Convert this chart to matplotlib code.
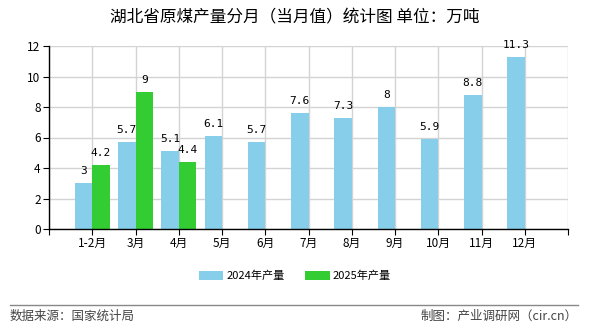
import matplotlib.pyplot as plt
import numpy as np

plt.rcParams['font.family'] = ['Noto Sans CJK SC', 'DejaVu Sans']

months = ['1-2月', '3月', '4月', '5月', '6月', '7月', '8月', '9月', '10月', '11月', '12月']
output_2024 = [3, 5.7, 5.1, 6.1, 5.7, 7.6, 7.3, 8, 5.9, 8.8, 11.3]
output_2025 = [4.2, 9, 4.4]

fig = plt.figure(figsize=(5.9, 3.3), dpi=100)
ax = fig.add_axes([49 / 590, 101 / 330, 519 / 590, 183 / 330])

x = np.arange(len(months))
w = 0.4
b1 = ax.bar(x - w / 2, output_2024, w, color='#87CEEB', label='2024年产量', zorder=3)
b2 = ax.bar(x[:len(output_2025)] + w / 2, output_2025, w, color='#33CC33', label='2025年产量', zorder=3)

# value labels above each bar
for bars, vals in ((b1, output_2024), (b2, output_2025)):
    for r, v in zip(bars, vals):
        ax.annotate('%g' % v, (r.get_x() + r.get_width() / 2, v), xytext=(0, 5),
                    textcoords='offset points', ha='center', va='bottom',
                    fontsize=8, family=['DejaVu Sans Mono'], zorder=4)

ax.set_xlim(-1, 11)
ax.set_ylim(0, 12)
ax.set_yticks(range(0, 13, 2))
ax.set_xticks(np.arange(-1, 12))
ax.set_xticklabels([''] + months + [''])
ax.tick_params(axis='both', labelsize=8.5, length=4, color='black', pad=2)
ax.grid(True, color='#d3d3d3', linewidth=1, zorder=0)
for s in ('top', 'right'):
    ax.spines[s].set_visible(False)
for s in ('left', 'bottom'):
    ax.spines[s].set_linewidth(1)
    ax.spines[s].set_zorder(5)

fig.text(0.5, 1 - 18 / 330, '湖北省原煤产量分月（当月值）统计图 单位：万吨',
         ha='center', va='center', fontsize=12)

fig.legend(loc='center', bbox_to_anchor=(0.5, 1 - 276 / 330), ncol=2, frameon=False,
           fontsize=8, handlelength=2.2, handleheight=0.9, columnspacing=1.8, handletextpad=0.3)

fig.add_artist(plt.Line2D([10 / 590, 578 / 590], [1 - 305 / 330] * 2, color='#888888', linewidth=1))
fig.text(10 / 590, 1 - 316 / 330, '数据来源：国家统计局', ha='left', va='center', fontsize=9, color='#444444')
fig.text(578 / 590, 1 - 316 / 330, '制图：产业调研网（cir.cn）', ha='right', va='center', fontsize=9, color='#444444')

fig.savefig('out.png', dpi=100)
